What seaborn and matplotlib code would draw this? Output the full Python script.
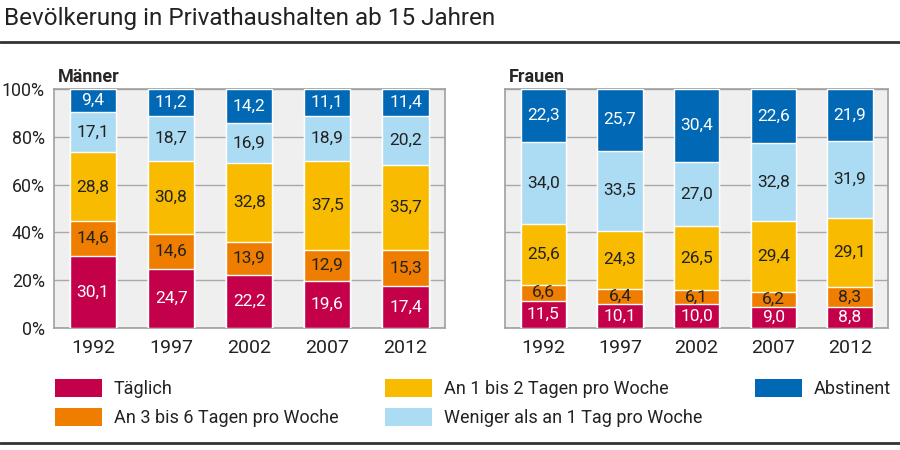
import numpy as np
import pandas as pd
import matplotlib
matplotlib.use('Agg')
import matplotlib.pyplot as plt
from matplotlib.patches import Patch
import seaborn as sns

# Data (Anteile in %)
years = ['1992', '1997', '2002', '2007', '2012']
categories = ['Täglich', 'An 3 bis 6 Tagen pro Woche', 'An 1 bis 2 Tagen pro Woche',
              'Weniger als an 1 Tag pro Woche', 'Abstinent']
maenner_taeglich = [30.1, 24.7, 22.2, 19.6, 17.4]
maenner_3bis6 = [14.6, 14.6, 13.9, 12.9, 15.3]
maenner_1bis2 = [28.8, 30.8, 32.8, 37.5, 35.7]
maenner_weniger = [17.1, 18.7, 16.9, 18.9, 20.2]
maenner_abstinent = [9.4, 11.2, 14.2, 11.1, 11.4]
frauen_taeglich = [11.5, 10.1, 10.0, 9.0, 8.8]
frauen_3bis6 = [6.6, 6.4, 6.1, 6.2, 8.3]
frauen_1bis2 = [25.6, 24.3, 26.5, 29.4, 29.1]
frauen_weniger = [34.0, 33.5, 27.0, 32.8, 31.9]
frauen_abstinent = [22.3, 25.7, 30.4, 22.6, 21.9]

colors = ['#c4004b', '#ee7d00', '#f8bb00', '#acdcf4', '#0068b4']
text_colors = ['white', '#222222', '#222222', '#222222', 'white']

sns.set_style('white')
plt.rcParams['font.family'] = ['Roboto', 'DejaVu Sans']

fig = plt.figure(figsize=(9, 4.5), dpi=100)
ax_m = fig.add_axes([0.060, 0.271, 0.434, 0.531])
ax_f = fig.add_axes([0.561, 0.271, 0.426, 0.531])


def draw_panel(ax, series, title, show_labels):
    df = pd.DataFrame(dict(zip(categories, series)), index=years)
    cum = df.cumsum(axis=1)
    # draw from the top layer down so shorter bars sit in front
    for i in range(len(categories) - 1, -1, -1):
        sns.barplot(x=years, y=cum[categories[i]].values, color=colors[i],
                    width=0.59, saturation=1, ax=ax, zorder=3)
    for i, cat in enumerate(categories):
        mids = cum[cat].values - df[cat].values / 2
        for j, (m, v) in enumerate(zip(mids, df[cat].values)):
            ax.text(j, m, f'{v:.1f}'.replace('.', ','), ha='center', va='center',
                    fontsize=12.5, color=text_colors[i], zorder=5)
    ax.set_facecolor('#efefef')
    ax.set_ylim(0, 100)
    ax.set_xlim(-0.5, 4.5)
    ax.set_yticks([0, 20, 40, 60, 80, 100])
    if show_labels:
        ax.set_yticklabels(['0%', '20%', '40%', '60%', '80%', '100%'])
    else:
        ax.set_yticklabels([])
    ax.yaxis.grid(True, color='#a8a8a8', linewidth=1, zorder=0)
    ax.set_axisbelow(True)
    ax.tick_params(axis='y', length=5, color='#999999', labelsize=12.8, pad=1.5,
                   labelcolor='#222222')
    ax.tick_params(axis='x', length=0, labelsize=14, pad=8, labelcolor='#222222')
    for s in ax.spines.values():
        s.set_color('#a0a0a0')
        s.set_linewidth(1.2)
    ax.set_xlabel('')
    ax.set_ylabel('')
    ax.set_title(title, loc='left', fontsize=13, fontweight='bold', pad=5, x=0.01)


draw_panel(ax_m, [maenner_taeglich, maenner_3bis6, maenner_1bis2, maenner_weniger, maenner_abstinent],
           'Männer', True)
draw_panel(ax_f, [frauen_taeglich, frauen_3bis6, frauen_1bis2, frauen_weniger, frauen_abstinent],
           'Frauen', False)

fig.text(0.004, 0.958, 'Bevölkerung in Privathaushalten ab 15 Jahren', fontsize=17.5,
         ha='left', va='center', color='#222222')
fig.add_artist(plt.Line2D([0, 1], [0.907, 0.907], color='#333333', linewidth=2))
fig.add_artist(plt.Line2D([0, 1], [0.016, 0.016], color='#333333', linewidth=2))

# legend in three column groups at fixed positions
handles = [Patch(facecolor=c, edgecolor='none') for c in colors]
groups = [([0, 1], 0.061), ([2, 3], 0.428), ([4], 0.839)]
for idx, x0 in groups:
    leg = fig.legend([handles[k] for k in idx], [categories[k] for k in idx],
                     loc='upper left', bbox_to_anchor=(x0, 0.157), frameon=False,
                     fontsize=13, handlelength=2.6, handleheight=1.15,
                     handletextpad=0.65, labelspacing=0.55, borderpad=0,
                     borderaxespad=0, labelcolor='#222222')

fig.savefig('out.png', dpi=100)
